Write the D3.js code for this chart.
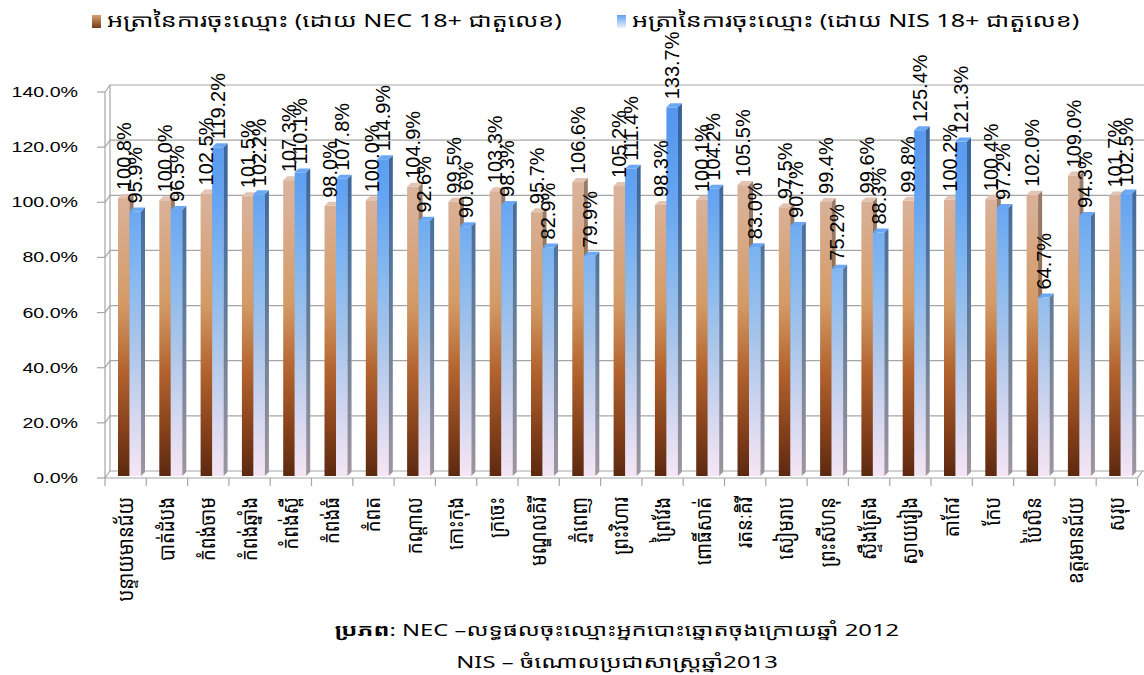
<!DOCTYPE html>
<meta charset="utf-8">
<style>
  body { margin: 0; background: #fff; }
  text { font-family: "Liberation Sans", Arial, sans-serif; fill: #000; }
  .km { font-family: "Noto Sans Khmer", "Khmer OS", "Khmer OS System", "Noto Sans", sans-serif; }
</style>
<body>
<svg id="chart" width="1144" height="675"></svg>
<script src="https://d3js.org/d3.v7.min.js"></script>
<script>
  // data
  const provinces = [
    "បន្ទាយមានជ័យ", "បាត់ដំបង", "កំពង់ចាម", "កំពង់ឆ្នាំង", "កំពង់ស្ពឺ", "កំពង់ធំ", "កំពត",
    "កណ្តាល", "កោះកុង", "ក្រចេះ", "មណ្ឌលគិរី", "ភ្នំពេញ", "ព្រះវិហារ", "ព្រៃវែង",
    "ពោធិ៍សាត់", "រតនៈគិរី", "សៀមរាប", "ព្រះសីហនុ", "ស្ទឹងត្រែង", "ស្វាយរៀង", "តាកែវ",
    "កែប", "ប៉ៃលិន", "ឧត្តរមានជ័យ", "សរុប"
  ];
  const necRate = [100.8, 100.0, 102.5, 101.5, 107.3, 98.0, 100.0, 104.9, 99.5, 103.3, 95.7, 106.6, 105.2,
                   98.3, 100.1, 105.5, 97.5, 99.4, 99.6, 99.8, 100.2, 100.4, 102.0, 109.0, 101.7];
  const nisRate = [95.9, 96.5, 119.2, 102.2, 110.1, 107.8, 114.9, 92.6, 90.6, 98.3, 82.9, 79.9, 111.4,
                   133.7, 104.2, 83.0, 90.7, 75.2, 88.3, 125.4, 121.3, 97.2, 64.7, 94.3, 102.5];
  const yTicks = [0, 20, 40, 60, 80, 100, 120, 140];
  const seriesKeys = ["nec", "nis"];
  const legendLabels = [
    "អត្រានៃការចុះឈ្មោះ (ដោយ NEC 18+ ជាតួលេខ)",
    "អត្រានៃការចុះឈ្មោះ (ដោយ NIS 18+ ជាតួលេខ)"
  ];
  const sourceLabel = "ប្រភព";
  const sourceLine1 = ": NEC –លទ្ធផលចុះឈ្មោះអ្នកបោះឆ្នោតចុងក្រោយឆ្នាំ 2012";
  const sourceLine2 = "NIS – ចំណោលប្រជាសាស្ត្រឆ្នាំ2013";

  const svg = d3.select("#chart");
  const plotLeft = 105, plotRight = 1137.5, plotBottom = 478, plotTop = 92;
  const depthX = 5, depthY = -7;   // back wall offset
  const barDX = 4, barDY = -4;     // bar side depth
  const stretch = 1.4;             // the original picture is stretched sideways

  const y = d3.scaleLinear().domain([0, 140]).range([plotBottom, plotTop]);
  const x = d3.scaleBand().domain(provinces).range([plotLeft, plotRight]);
  const xs = d3.scaleBand().domain(seriesKeys).range([13, 36]);

  const defs = svg.append("defs");
  function grad(id, stops) {
    const g = defs.append("linearGradient").attr("id", id)
      .attr("gradientUnits", "userSpaceOnUse")
      .attr("x1", 0).attr("x2", 0).attr("y1", plotTop).attr("y2", plotBottom);
    stops.forEach(s => g.append("stop").attr("offset", s[0]).attr("stop-color", s[1]));
  }
  grad("necGrad", [[0, "#dcbcab"], [0.3, "#d9b096"], [0.55, "#d39a66"], [0.72, "#b3642f"], [0.88, "#84401a"], [1, "#5a2810"]]);
  grad("nisGrad", [[0, "#5193ee"], [0.25, "#62a2f2"], [0.45, "#82b6f0"], [0.65, "#a9c5ea"], [0.85, "#d6d8f0"], [1, "#f6e6f4"]]);
  defs.append("linearGradient").attr("id", "necSwatch").attr("x1", 0).attr("x2", 0).attr("y1", 0).attr("y2", 1)
    .selectAll("stop").data([[0, "#d8a070"], [1, "#7a3a18"]]).enter().append("stop")
    .attr("offset", d => d[0]).attr("stop-color", d => d[1]);
  defs.append("linearGradient").attr("id", "nisSwatch").attr("x1", 0).attr("x2", 0).attr("y1", 0).attr("y2", 1)
    .selectAll("stop").data([[0, "#5ea0f2"], [1, "#eef2fa"]]).enter().append("stop")
    .attr("offset", d => d[0]).attr("stop-color", d => d[1]);

  // walls and gridlines
  const wall = svg.append("g").attr("fill", "none").attr("stroke", "#a6a6a6").attr("stroke-width", 1.2);
  yTicks.forEach(t => {
    const yy = y(t);
    wall.append("path").attr("d", `M${plotLeft},${yy}L${plotLeft + depthX},${yy + depthY}L1144,${yy + depthY}`);
    wall.append("line").attr("x1", plotLeft - 8).attr("x2", plotLeft).attr("y1", yy).attr("y2", yy);
  });
  wall.append("line").attr("x1", plotLeft).attr("x2", plotLeft).attr("y1", plotBottom).attr("y2", plotTop);
  wall.append("line").attr("x1", plotLeft + depthX).attr("x2", plotLeft + depthX)
    .attr("y1", plotBottom + depthY).attr("y2", plotTop + depthY);
  wall.append("path").attr("d", `M${plotLeft},${plotBottom}L${plotRight},${plotBottom}L${plotRight + depthX},${plotBottom + depthY}`);
  provinces.forEach((p, i) => {
    const xx = plotLeft + i * x.bandwidth();
    wall.append("line").attr("x1", xx).attr("x2", xx).attr("y1", plotBottom).attr("y2", plotBottom + 8);
  });
  wall.append("line").attr("x1", plotRight).attr("x2", plotRight).attr("y1", plotBottom).attr("y2", plotBottom + 8);

  // y labels
  svg.append("g").selectAll("g").data(yTicks).enter().append("g")
    .attr("transform", d => `translate(78,${y(d) + 5}) scale(${stretch},1)`)
    .append("text").attr("text-anchor", "end").attr("font-size", 14)
    .text(d => d.toFixed(1) + "%");

  // bars
  const rows = provinces.map((p, i) => ({ p, nec: necRate[i], nis: nisRate[i] }));
  const bw = xs.bandwidth();
  const barBase = plotBottom - 2;
  rows.forEach(r => {
    seriesKeys.forEach(k => {
      const x0 = x(r.p) + xs(k);
      const t = y(r[k]) - 2;
      const g = svg.append("g");
      const fill = `url(#${k}Grad)`;
      g.append("rect").attr("x", x0).attr("y", t).attr("width", bw).attr("height", barBase - t).attr("fill", fill);
      const side = `M${x0 + bw},${t}L${x0 + bw + barDX},${t + barDY}L${x0 + bw + barDX},${barBase + barDY}L${x0 + bw},${barBase}Z`;
      g.append("path").attr("d", side).attr("fill", fill);
      g.append("path").attr("d", side).attr("fill", "#000").attr("fill-opacity", k === "nec" ? 0.3 : 0.35);
      const topFace = `M${x0},${t}L${x0 + barDX},${t + barDY}L${x0 + bw + barDX},${t + barDY}L${x0 + bw},${t}Z`;
      g.append("path").attr("d", topFace).attr("fill", k === "nec" ? "#e2c4b4" : "#6aa8f6");
    });
  });

  // value labels
  rows.forEach(r => {
    seriesKeys.forEach(k => {
      const cx = x(r.p) + xs(k) + bw / 2;
      const t = y(r[k]) - 2 + barDY - 4;
      svg.append("text")
        .attr("transform", `translate(${cx + 7},${t}) rotate(-90)`)
        .attr("font-size", 20)
        .text(r[k].toFixed(1) + "%");
    });
  });

  // category labels
  svg.append("g").selectAll("text").data(provinces).enter().append("text")
    .attr("class", "km")
    .attr("transform", d => `translate(${x(d) + x.bandwidth() / 2 + 7},497) scale(1.15,1) rotate(-90)`)
    .attr("text-anchor", "end").attr("font-size", 18.5)
    .text(d => d);

  // legend
  const legendX = [92, 617];
  seriesKeys.forEach((k, i) => {
    svg.append("rect").attr("x", legendX[i]).attr("y", 15).attr("width", 9).attr("height", 13)
      .attr("fill", `url(#${k}Swatch)`);
    svg.append("g").attr("transform", `translate(${legendX[i] + 15},27) scale(${stretch},1)`)
      .append("text").attr("class", "km").attr("font-size", 18).text(legendLabels[i]);
  });

  // source
  const s1 = svg.append("g").attr("transform", `translate(617,636) scale(${stretch},1)`)
    .append("text").attr("class", "km").attr("text-anchor", "middle").attr("font-size", 17);
  s1.append("tspan").attr("font-weight", "bold").text(sourceLabel);
  s1.append("tspan").text(sourceLine1);
  svg.append("g").attr("transform", `translate(617,668) scale(${stretch},1)`)
    .append("text").attr("class", "km").attr("text-anchor", "middle").attr("font-size", 17).text(sourceLine2);
</script>
</body>
